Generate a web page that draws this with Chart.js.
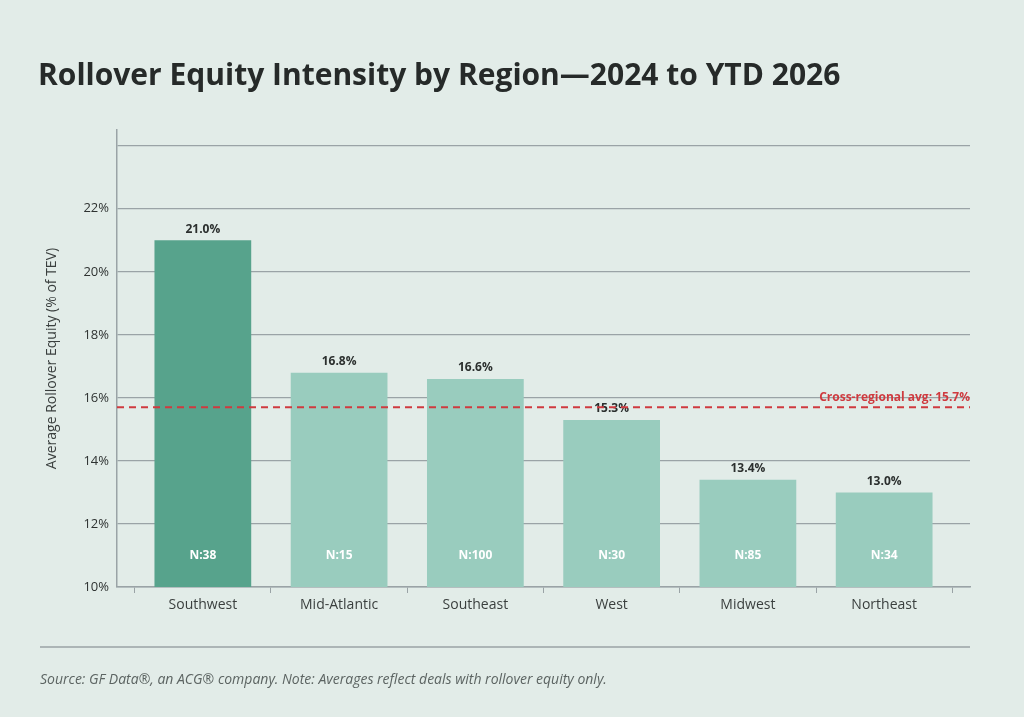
<!DOCTYPE html>
<html><head><meta charset="utf-8">
<script src="https://cdn.jsdelivr.net/npm/chart.js@4/dist/chart.umd.min.js"></script>
<style>html,body{margin:0;padding:0;background:#e2ece8;}canvas{display:block}</style>
</head><body>
<canvas id="c" width="1024" height="717"></canvas>
<script>
const regions = ["Southwest","Mid-Atlantic","Southeast","West","Midwest","Northeast"];
const values = [21.0,16.8,16.6,15.3,13.4,13.0];
const counts = [38,15,100,30,85,34];
const avgValue = 15.7;
const yTicks = [10,12,14,16,18,20,22,24];
const FONT = "'Open Sans', sans-serif";

const overlay = {
  id:'overlay',
  afterDatasetsDraw(chart){
    const {ctx, chartArea:a, scales:{x,y}} = chart;
    const meta = chart.getDatasetMeta(0);
    ctx.save();
    meta.data.forEach((bar,i)=>{
      ctx.fillStyle='#2b2f2e'; ctx.font="bold 12px "+FONT; ctx.textAlign='center'; ctx.textBaseline='bottom';
      ctx.fillText(values[i].toFixed(1)+'%', bar.x, bar.y-5);
      ctx.fillStyle='#ffffff'; ctx.textBaseline='middle';
      ctx.fillText('N:'+counts[i], bar.x, y.getPixelForValue(11.0));
    });
    const yy = y.getPixelForValue(avgValue);
    ctx.strokeStyle='#cf3a3f'; ctx.lineWidth=2; ctx.setLineDash([7,5]);
    ctx.beginPath(); ctx.moveTo(a.left,yy); ctx.lineTo(a.right,yy); ctx.stroke();
    ctx.setLineDash([]);
    ctx.fillStyle='#cf3a3f'; ctx.font="bold 12px "+FONT; ctx.textAlign='right'; ctx.textBaseline='bottom';
    ctx.fillText('Cross-regional avg: '+avgValue+'%', a.right, yy-4);
    ctx.fillStyle='#262a29'; ctx.font="bold 30px "+FONT; ctx.textAlign='left'; ctx.textBaseline='middle';
    ctx.fillText('Rollover Equity Intensity by Region\u20142024 to YTD 2026', 38, 76);
    ctx.strokeStyle='#9aa3a6'; ctx.lineWidth=1.5;
    ctx.beginPath(); ctx.moveTo(40,647); ctx.lineTo(970,647); ctx.stroke();
    ctx.fillStyle='#5c6462'; ctx.font="italic 14px "+FONT; ctx.textAlign='left';
    ctx.fillText('Source: GF Data\u00AE, an ACG\u00AE company. Note: Averages reflect deals with rollover equity only.', 40, 680);
    ctx.restore();
  }
};

new Chart(document.getElementById('c'), {
  type:'bar',
  data:{datasets:[{data:values.map((v,i)=>({x:i,y:v})),
    backgroundColor: values.map((v,i)=>i===0?'#57a38c':'#99ccbe'),
    categoryPercentage:0.71, barPercentage:1.0}]},
  options:{
    responsive:false, animation:false,
    layout:{padding:{left:40,right:54,top:130,bottom:80}},
    plugins:{legend:{display:false},tooltip:{enabled:false}},
    scales:{
      x:{type:'linear',min:-0.63,max:5.63,offset:false,
         afterBuildTicks(s){s.ticks=regions.map((r,i)=>({value:i}));},
         grid:{drawOnChartArea:false,drawTicks:true,tickLength:6,color:'#9aa3a6'},
         border:{color:'#9aa3a6',width:1.5},
         ticks:{color:'#3a3f3e',font:{family:FONT,size:14},padding:4,callback:(v)=>regions[v]??''},
         afterFit(s){s.height=50;}},
      y:{min:10,max:24.5,
         afterBuildTicks(s){s.ticks=yTicks.map(v=>({value:v}));},
         afterFit(s){s.width=77;},
         grid:{color:'#9aa3a6',lineWidth:1.2,drawTicks:false},
         border:{color:'#9aa3a6',width:1.5},
         title:{display:true,text:'Average Rollover Equity (% of TEV)',color:'#3a3f3e',font:{family:FONT,size:14}},
         ticks:{color:'#2e3231',font:{family:FONT,size:13},padding:8,
           callback:(v)=>v===24?'':v+'%'}}
    }
  },
  plugins:[overlay]
});
</script>
</body></html>
